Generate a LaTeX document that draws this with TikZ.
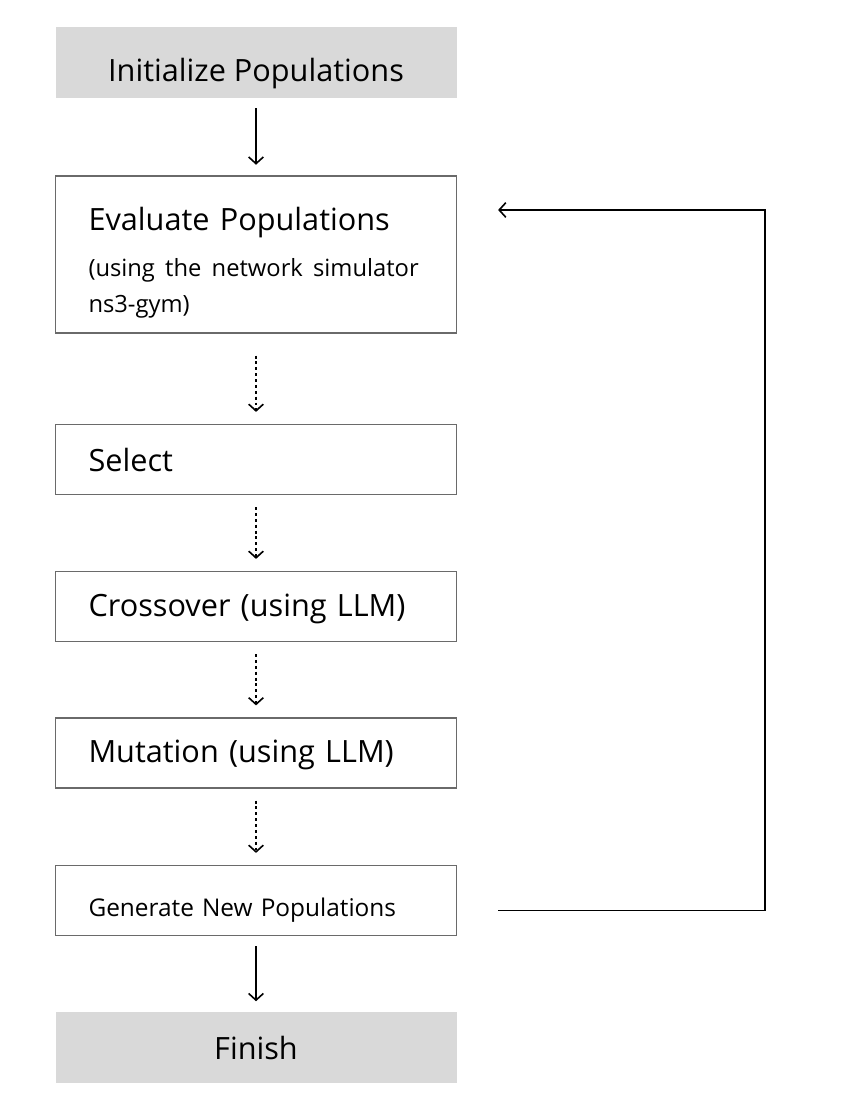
\documentclass[tikz,border=0pt]{standalone}
\usepackage{fontspec}
\setmainfont{Open Sans}
\usepackage{xcolor}
\usetikzlibrary{
    positioning,
    arrows.meta
}
\definecolor{termgray}{HTML}{D9D9D9}
\definecolor{edgegray}{HTML}{6A6A6A}
% strut that pushes a label down inside its box
\newcommand{\pushdown}[1]{\rule{0pt}{#1}}

\begin{document}
\begin{tikzpicture}[
      x=0.75pt, y=-0.75pt,
      stepbox/.style={rectangle, draw=edgegray, line width=0.9pt, inner sep=0pt,
          minimum width=300.75pt, minimum height=52.5pt,
          text width=251.25pt, align=left,
          font=\fontsize{23}{27}\selectfont},
      termbox/.style={rectangle, fill=termgray, inner sep=0pt,
          minimum width=300.75pt, minimum height=53pt, align=center,
          font=\fontsize{23}{27}\selectfont},
      arrow/.style={-{Straight Barb[length=5pt, width=11pt]}, line width=1.2pt},
      dotarrow/.style={arrow, dash pattern=on 2.2pt off 2.2pt}
    ]
    \useasboundingbox (0,0) rectangle (862,1118);

    \node[termbox] (init) at (256,62.5) {\pushdown{34pt}Initialize Populations};

    \node[stepbox, minimum height=117.75pt] (eval) at (256,254.5)
        {\pushdown{30.5pt}Evaluate Populations\\[8pt]
         \fontsize{17.8}{26.5}\selectfont (using the network simulator\\
         \fontsize{17.8}{26.5}\selectfont ns3-gym)};

    \node[stepbox] (sel) at (256,459.5) {Select};
    \node[stepbox] (cross) at (256,606.5) {\pushdown{20pt}Crossover (using LLM)};
    \node[stepbox] (mut) at (256,753) {\pushdown{20pt}Mutation (using LLM)};
    \node[stepbox, font=\fontsize{18.3}{22}\selectfont] (gen) at (256,900.5)
        {\pushdown{29pt}Generate New Populations};

    \node[termbox] (fin) at (256,1047.5) {Finish};

    \draw[arrow, shorten <=7.5pt, shorten >=8pt] (init) -- (eval);
    \draw[dotarrow, shorten <=16.5pt, shorten >=9pt] (eval) -- (sel);
    \draw[dotarrow, shorten <=9pt, shorten >=9pt] (sel) -- (cross);
    \draw[dotarrow, shorten <=9pt, shorten >=9pt] (cross) -- (mut);
    \draw[dotarrow, shorten <=9pt, shorten >=9pt] (mut) -- (gen);
    \draw[arrow, shorten <=7.5pt, shorten >=8pt] (gen) -- (fin);

    % loop back to evaluation
    \coordinate (fbstart) at ([xshift=30.75pt, yshift=-7.5pt]gen.east);
    \coordinate (fbend) at ([xshift=30.75pt, yshift=33.4pt]eval.east);
    \draw[arrow] (fbstart) -- ++(267,0) |- (fbend);
  \end{tikzpicture}
\end{document}
